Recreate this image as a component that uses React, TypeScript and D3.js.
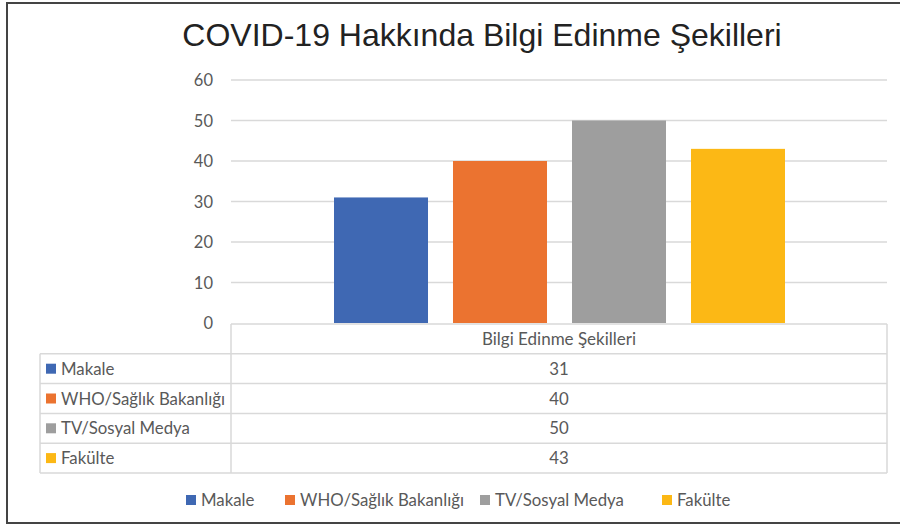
import React, { useEffect, useRef } from "react";
import * as d3 from "d3";

const title = "COVID-19 Hakkında Bilgi Edinme Şekilleri";
const category = "Bilgi Edinme Şekilleri";
const seriesNames = ["Makale", "WHO/Sağlık Bakanlığı", "TV/Sosyal Medya", "Fakülte"];
const seriesValues = [31, 40, 50, 43];
const seriesColors = ["#3f68b3", "#eb7330", "#9e9e9e", "#fcb815"];
const yTicks = [0, 10, 20, 30, 40, 50, 60];

const App = () => {
  const svgRef = useRef<SVGSVGElement>(null);

  useEffect(() => {
    const w = 900;
    const h = 525;
    const svg = d3.select(svgRef.current).attr("width", w).attr("height", h);
    svg.selectAll("*").remove();

    const font = "Lato, 'Open Sans', sans-serif";
    const grey = "#595959";
    const lineCol = "#d9d9d9";

    // frame
    svg.append("rect")
      .attr("x", 7).attr("y", 3)
      .attr("width", 900).attr("height", 520)
      .attr("fill", "white")
      .attr("stroke", "#444").attr("stroke-width", 2);

    svg.append("text")
      .attr("x", 482).attr("y", 46)
      .attr("text-anchor", "middle")
      .attr("font-family", "'Liberation Sans', Arial, sans-serif")
      .attr("font-size", 32)
      .attr("fill", "#222")
      .text(title);

    // scales
    const left = 231;
    const right = 887;
    const yScale = d3.scaleLinear().domain([0, 60]).range([323, 80]);
    const xOuter = d3.scaleBand().domain([category]).range([left, right]);
    const xInner = d3.scaleBand()
      .domain(seriesNames)
      .range([xOuter(category)! + 103, xOuter(category)! + xOuter.bandwidth() - 102])
      .paddingInner(0.21);

    // gridlines + y labels
    svg.append("g")
      .selectAll("line")
      .data(yTicks.filter(t => t > 0))
      .join("line")
      .attr("x1", left).attr("x2", right)
      .attr("y1", d => yScale(d)).attr("y2", d => yScale(d))
      .attr("stroke", lineCol).attr("stroke-width", 1.5);

    svg.append("g")
      .selectAll("text")
      .data(yTicks)
      .join("text")
      .attr("x", 213)
      .attr("y", d => yScale(d) + 6)
      .attr("text-anchor", "end")
      .attr("font-family", font).attr("font-size", 16.5)
      .attr("fill", grey)
      .text(d => d);

    // bars
    svg.append("g")
      .selectAll("rect")
      .data(seriesValues)
      .join("rect")
      .attr("x", (d, i) => xInner(seriesNames[i])!)
      .attr("width", xInner.bandwidth())
      .attr("y", d => yScale(d))
      .attr("height", d => yScale(0) - yScale(d))
      .attr("fill", (d, i) => seriesColors[i]);

    // data table
    const rowTop = 324;
    const rowH = 29.8;
    const tableLeft = 40;
    const rows = seriesNames.length;
    const tbl = svg.append("g")
      .attr("stroke", lineCol).attr("stroke-width", 1.5).attr("fill", "none");
    tbl.append("line").attr("x1", left).attr("x2", right).attr("y1", rowTop).attr("y2", rowTop);
    d3.range(1, rows + 2).forEach(r => {
      tbl.append("line")
        .attr("x1", tableLeft).attr("x2", right)
        .attr("y1", rowTop + r * rowH).attr("y2", rowTop + r * rowH);
    });
    tbl.append("line").attr("x1", tableLeft).attr("x2", tableLeft)
      .attr("y1", rowTop + rowH).attr("y2", rowTop + (rows + 1) * rowH);
    tbl.append("line").attr("x1", left).attr("x2", left)
      .attr("y1", rowTop).attr("y2", rowTop + (rows + 1) * rowH);
    tbl.append("line").attr("x1", right).attr("x2", right)
      .attr("y1", rowTop).attr("y2", rowTop + (rows + 1) * rowH);

    const cx = xOuter(category)! + xOuter.bandwidth() / 2;
    svg.append("text")
      .attr("x", cx).attr("y", rowTop + rowH / 2 + 6)
      .attr("text-anchor", "middle")
      .attr("font-family", font).attr("font-size", 17)
      .attr("fill", grey)
      .text(category);

    const rowG = svg.append("g")
      .selectAll("g")
      .data(seriesNames)
      .join("g")
      .attr("transform", (d, i) => `translate(0,${rowTop + (i + 1) * rowH + rowH / 2})`);
    rowG.append("rect")
      .attr("x", 46).attr("y", -5).attr("width", 10).attr("height", 10)
      .attr("fill", (d, i) => seriesColors[i]);
    rowG.append("text")
      .attr("x", 61).attr("y", 6)
      .attr("font-family", font).attr("font-size", 16.8)
      .attr("fill", grey)
      .text(d => d);
    rowG.append("text")
      .attr("x", cx).attr("y", 6)
      .attr("text-anchor", "middle")
      .attr("font-family", font).attr("font-size", 16.8)
      .attr("fill", grey)
      .text((d, i) => seriesValues[i]);

    // legend
    const legendX = [186, 285, 480, 662];
    const leg = svg.append("g")
      .selectAll("g")
      .data(seriesNames)
      .join("g")
      .attr("transform", (d, i) => `translate(${legendX[i]},500)`);
    leg.append("rect")
      .attr("x", 0).attr("y", -5).attr("width", 10).attr("height", 10)
      .attr("fill", (d, i) => seriesColors[i]);
    leg.append("text")
      .attr("x", 15).attr("y", 6)
      .attr("font-family", font).attr("font-size", 16.8)
      .attr("fill", grey)
      .text(d => d);
  }, []);

  return (
    <div style={{ position: "absolute", left: 0, top: 0 }}>
      <svg ref={svgRef} style={{ display: "block" }}></svg>
    </div>
  );
};

export default App;
